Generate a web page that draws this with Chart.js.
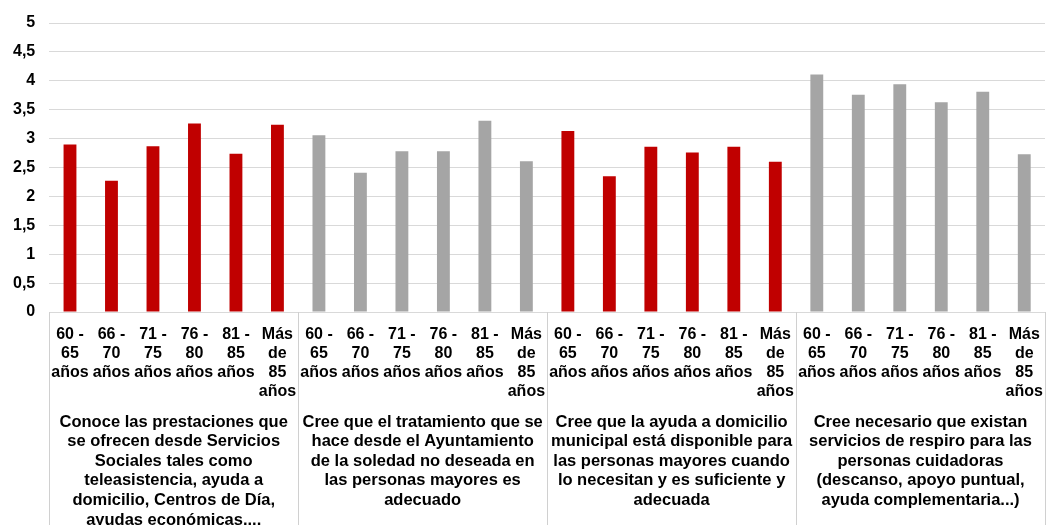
<!DOCTYPE html>
<html>
<head>
<meta charset="utf-8">
<script src="https://cdn.jsdelivr.net/npm/chart.js@4/dist/chart.umd.min.js"></script>
<style>
  html, body { margin: 0; padding: 0; background: #fff; overflow: hidden; }
  #wrap { width: 1047px; height: 530px; position: relative; }
</style>
</head>
<body>
<div id="wrap"><canvas id="chart"></canvas></div>
<script>
const ageLabels = [
  ['60 -', '65', 'años'],
  ['66 -', '70', 'años'],
  ['71 -', '75', 'años'],
  ['76 -', '80', 'años'],
  ['81 -', '85', 'años'],
  ['Más', 'de', '85', 'años']
];
const groupLabels = [
  ['Conoce las prestaciones que', 'se ofrecen desde Servicios', 'Sociales tales como', 'teleasistencia, ayuda a', 'domicilio, Centros de Día,', 'ayudas económicas....'],
  ['Cree que el tratamiento que se', 'hace desde el Ayuntamiento', 'de la soledad no deseada en', 'las personas mayores es', 'adecuado'],
  ['Cree que la ayuda a domicilio', 'municipal está disponible para', 'las personas mayores cuando', 'lo necesitan y es suficiente y', 'adecuada'],
  ['Cree necesario que existan', 'servicios de respiro para las', 'personas cuidadoras', '(descanso, apoyo puntual,', 'ayuda complementaria...)']
];
const groupColors = ['#C00000', '#A5A5A5', '#C00000', '#A5A5A5'];

const conoceValues    = [2.90, 2.27, 2.87, 3.26, 2.74, 3.24];
const soledadValues   = [3.06, 2.41, 2.78, 2.78, 3.31, 2.61];
const domicilioValues = [3.13, 2.35, 2.86, 2.76, 2.86, 2.60];
const respiroValues   = [4.11, 3.76, 3.94, 3.63, 3.81, 2.73];
const yTicks = [0, 0.5, 1, 1.5, 2, 2.5, 3, 3.5, 4, 4.5, 5];

const groupValues = [conoceValues, soledadValues, domicilioValues, respiroValues];
const labels = [];
const values = [];
const colors = [];
groupValues.forEach((g, gi) => {
  g.forEach((v, i) => {
    labels.push(ageLabels[i]);
    values.push(v);
    colors.push(groupColors[gi]);
  });
});

const FONT = '"Liberation Sans", Arial, sans-serif';
const NO_TICK = 'rgba(0,0,0,0)';

// vertical lines between the question groups, below the x axis
const separators = {
  id: 'separators',
  afterDraw(chart) {
    const x = chart.scales.x;
    const ctx = chart.ctx;
    const top = x.top;
    const bottom = chart.height;
    ctx.save();
    ctx.strokeStyle = '#d0d0d0';
    ctx.lineWidth = 1;
    for (let k = 0; k <= groupValues.length; k++) {
      const idx = k * 6;
      let px;
      if (k === 0) px = x.left;
      else if (k === groupValues.length) px = x.right;
      else px = (x.getPixelForValue(idx - 1) + x.getPixelForValue(idx)) / 2;
      px = Math.round(px) + 0.5;
      ctx.beginPath();
      ctx.moveTo(px, top);
      ctx.lineTo(px, bottom);
      ctx.stroke();
    }
    ctx.restore();
  }
};

new Chart(document.getElementById('chart'), {
  type: 'bar',
  data: {
    labels,
    datasets: [{
      data: values,
      backgroundColor: colors,
      borderWidth: 0,
      categoryPercentage: 1,
      barPercentage: 0.31
    }]
  },
  options: {
    responsive: true,
    maintainAspectRatio: false,
    animation: false,
    layout: { padding: { left: 13, right: 2, top: 23, bottom: 0 } },
    plugins: { legend: { display: false }, tooltip: { enabled: false } },
    scales: {
      x: {
        type: 'category',
        position: 'bottom',
        offset: true,
        grid: { display: true, drawOnChartArea: false, drawTicks: true, tickLength: 13, color: NO_TICK },
        border: { display: true, color: '#d9d9d9' },
        ticks: {
          autoSkip: false, maxRotation: 0, minRotation: 0, padding: 0,
          color: '#000',
          font: { family: FONT, size: 16, weight: 'bold', lineHeight: 1.19 }
        }
      },
      x2: {
        type: 'category',
        position: 'bottom',
        labels: groupLabels,
        offset: true,
        grid: { display: true, drawOnChartArea: false, drawTicks: true, tickLength: 11, color: NO_TICK },
        border: { display: false },
        ticks: {
          autoSkip: false, maxRotation: 0, minRotation: 0, padding: 0,
          color: '#000',
          font: { family: FONT, size: 16.5, weight: 'bold', lineHeight: 1.19 }
        }
      },
      y: {
        min: 0,
        max: 5,
        afterBuildTicks: (axis) => { axis.ticks = yTicks.map(v => ({ value: v })); },
        grid: { color: (c) => c.type === 'tick' ? '#d9d9d9' : '#d9d9d9', drawTicks: true, tickLength: 14, tickColor: NO_TICK },
        border: { display: false },
        ticks: {
          padding: 0,
          color: '#000',
          font: { family: FONT, size: 16, weight: 'bold' },
          callback: (v) => String(v).replace('.', ',')
        }
      }
    }
  },
  plugins: [separators]
});
</script>
</body>
</html>
